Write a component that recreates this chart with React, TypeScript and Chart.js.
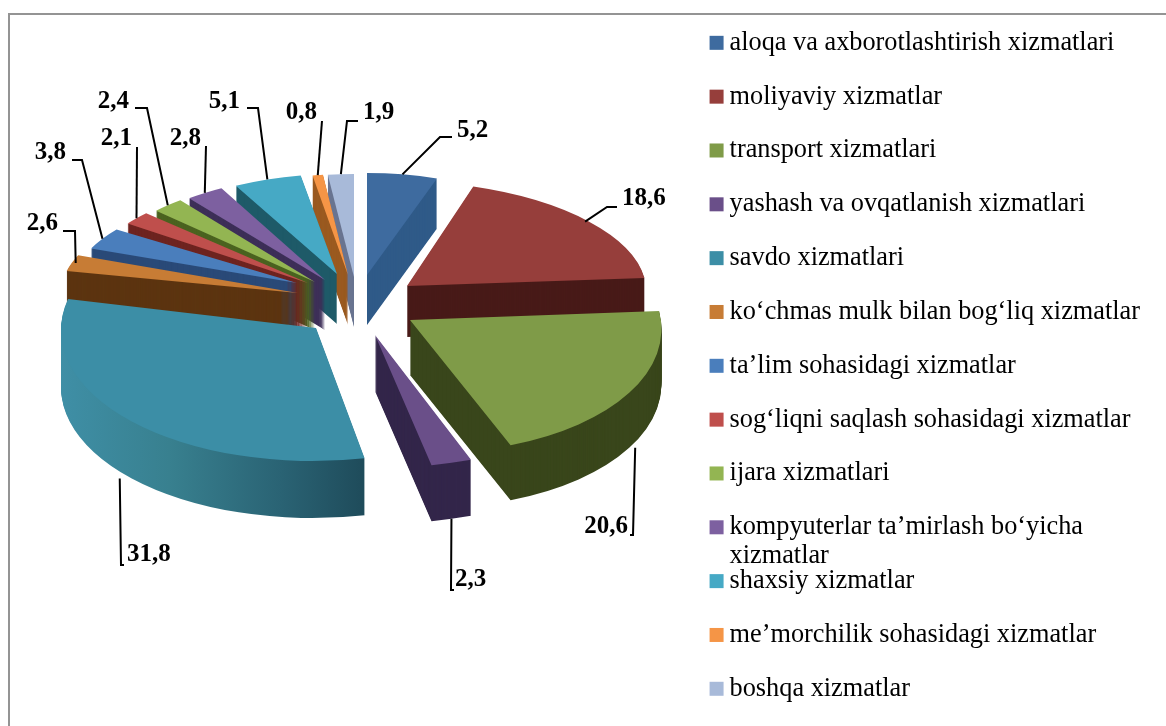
import React, { useEffect, useRef } from "react";
import { Chart, registerables } from "chart.js";

Chart.register(...registerables);

const categories = [
  "aloqa va axborotlashtirish xizmatlari",
  "moliyaviy xizmatlar",
  "transport xizmatlari",
  "yashash va ovqatlanish xizmatlari",
  "savdo xizmatlari",
  "ko‘chmas mulk bilan bog‘liq xizmatlar",
  "ta’lim sohasidagi xizmatlar",
  "sog‘liqni saqlash sohasidagi xizmatlar",
  "ijara xizmatlari",
  "kompyuterlar ta’mirlash bo‘yicha",
  "shaxsiy xizmatlar",
  "me’morchilik sohasidagi xizmatlar",
  "boshqa xizmatlar",
];
const values = [5.2, 18.6, 20.6, 2.3, 31.8, 2.6, 3.8, 2.1, 2.4, 2.8, 5.1, 0.8, 1.9];
const valueLabels = ["5,2", "18,6", "20,6", "2,3", "31,8", "2,6", "3,8", "2,1", "2,4", "2,8", "5,1", "0,8", "1,9"];
const wrappedLine = { index: 9, text: "xizmatlar" };

const faceColors = ["#3e6b9f", "#963e3b", "#7f9b48", "#6a4f89", "#3c8ea6", "#c77c35", "#4a7ebc", "#bf4f4c", "#93b552", "#7d60a0", "#46a9c5", "#f59546", "#a8bad9"];
const sideColors = ["#2f5a88", "#481a18", "#39461b", "#33264a", "", "#5c3410", "#2a4a78", "#6e2420", "#4b6320", "#3d2f58", "#1e5a68", "#9a5a20", "#6a7590"];

// 3D look: pie centre, explosion of each slice, projection of each slice's circle, extrusion
const PIE_RADIUS = 200;
const PIE_CENTER = [362, 305];
const explode = [[5, -30], [45, -19], [48, 15], [13, 30], [-46, 23], [-64, -12], [-65, -22], [-54, -22], [-47, -23], [-37, -25], [-25, -31], [-14, -30], [-8, -28]];
const projection = [[218, 0, 0, 102], [239, -11, 0, 105], [251, -15, 1, 133], [284, 2, 0, 133], [255, 4, 0, 133], [237, 0, 0, 101], [222, 0, 0, 92], [222, 0, 0, 102], [218, 0, 0, 104], [220, 0, 0, 104], [215, 0, 0, 100], [210, 0, 0, 101], [220, 0, 0, 103]];
const depth = [50, 51, 55, 56, 57, 46, 48, 48, 48, 50, 50, 50, 50];
const drawOrder = [12, 11, 10, 9, 8, 7, 6, 5, 0, 1, 3, 2, 4];

// leader layout: start nudge, bend point(s), then text anchor
const leaders: { dx?: number; bend: number[][]; text: number[]; align: CanvasTextAlign; bottom?: boolean }[] = [
  { bend: [[440, 137], [452, 137]], text: [457, 131], align: "left" },
  { dx: -4, bend: [[607, 207], [617, 207]], text: [622, 199], align: "left" },
  { dx: 6, bend: [[633, 535], [630, 535]], text: [628, 527], align: "right", bottom: true },
  { bend: [[451, 590], [454, 590]], text: [455, 580], align: "left", bottom: true },
  { dx: -12, bend: [[121, 565], [124, 565]], text: [127, 555], align: "left", bottom: true },
  { dx: 4, bend: [[75, 231], [63, 231]], text: [58, 224], align: "right" },
  { bend: [[82, 160], [72, 160]], text: [66, 153], align: "right" },
  { bend: [[137, 147]], text: [132, 139], align: "right" },
  { bend: [[147, 108], [135, 108]], text: [129, 102], align: "right" },
  { bend: [[206, 146]], text: [201, 139], align: "right" },
  { bend: [[258, 108], [247, 108]], text: [240, 102], align: "right" },
  { bend: [[322, 121]], text: [317, 113], align: "right" },
  { bend: [[347, 121], [358, 121]], text: [363, 113], align: "left" },
];

const SERIF = "'Liberation Serif', serif";

const withSlice = (ctx: any, arc: any, i: number, dy: number, draw: () => void) => {
  const [a, b, c, d] = projection[i];
  const R = arc.outerRadius;
  ctx.save();
  ctx.translate(PIE_CENTER[0] + explode[i][0], PIE_CENTER[1] + explode[i][1] + dy);
  ctx.transform(a / R, c / R, -b / R, d / R, 0, 0);
  ctx.translate(-arc.x, -arc.y);
  draw();
  ctx.restore();
};

const pie3d = {
  id: "pie3d",
  beforeDraw(chart: any) {
    const { ctx, width, height } = chart;
    ctx.save();
    ctx.fillStyle = "#ffffff";
    ctx.fillRect(0, 0, width, height);
    ctx.fillStyle = "#949494";
    ctx.fillRect(8, 13, 2, height - 13);
    ctx.fillRect(8, 13, width - 8, 2);
    ctx.restore();
  },
  beforeDatasetsDraw(chart: any) {
    const { ctx } = chart;
    const arcs = chart.getDatasetMeta(0).data;
    drawOrder.forEach((i) => {
      const arc = arcs[i];
      const original = arc.options;
      let side: any = sideColors[i];
      if (!side) {
        side = ctx.createLinearGradient(arc.x - arc.outerRadius, 0, arc.x + arc.outerRadius * 0.25, 0);
        side.addColorStop(0, "#3f8fa6");
        side.addColorStop(0.35, "#38808f");
        side.addColorStop(0.7, "#2a6374");
        side.addColorStop(1, "#1d4857");
      }
      arc.options = { ...original, backgroundColor: side };
      for (let dy = depth[i]; dy >= 1; dy--) {
        withSlice(ctx, arc, i, dy, () => arc.draw(ctx));
      }
      arc.options = original;
      withSlice(ctx, arc, i, 0, () => arc.draw(ctx));
    });
    return false;
  },
  afterDraw(chart: any) {
    const { ctx } = chart;
    const arcs = chart.getDatasetMeta(0).data;
    ctx.save();
    // leader lines + value labels
    ctx.strokeStyle = "#000000";
    ctx.lineWidth = 2;
    ctx.fillStyle = "#000000";
    ctx.font = `bold 25px ${SERIF}`;
    ctx.textBaseline = "middle";
    leaders.forEach((l, i) => {
      const arc = arcs[i];
      const mid = (arc.startAngle + arc.endAngle) / 2;
      const sin = Math.cos(mid);
      const cos = -Math.sin(mid);
      const [a, b, c, d] = projection[i];
      const x0 = PIE_CENTER[0] + explode[i][0] + a * sin + b * cos + (l.dx || 0);
      const y0 = PIE_CENTER[1] + explode[i][1] + c * sin - d * cos + (l.bottom ? depth[i] : 0);
      ctx.beginPath();
      ctx.moveTo(x0, y0);
      l.bend.forEach((p) => ctx.lineTo(p[0], p[1]));
      ctx.stroke();
      ctx.textAlign = l.align;
      ctx.fillText(valueLabels[i], l.text[0], l.text[1]);
    });
    // legend swatches + wrapped second line
    const legend = chart.legend;
    const font = chart.options.plugins.legend.labels.font;
    ctx.textAlign = "left";
    legend.legendItems.forEach((item: any, i: number) => {
      const box = legend.legendHitBoxes[i];
      ctx.fillStyle = faceColors[i];
      ctx.fillRect(box.left, box.top + (box.height - 14) / 2, 14, 14);
    });
    const hit = legend.legendHitBoxes[wrappedLine.index];
    ctx.font = `${font.size}px ${SERIF}`;
    ctx.fillStyle = "#000000";
    ctx.textBaseline = "middle";
    ctx.fillText(wrappedLine.text, hit.left + 20, hit.top + hit.height / 2 + 29);
    ctx.restore();
  },
};

export default function App() {
  const ref = useRef<HTMLCanvasElement>(null);
  useEffect(() => {
    document.body.style.overflow = "hidden";
    const canvas = ref.current!;
    const chart = new Chart(canvas, {
      type: "pie",
      data: {
        labels: categories,
        datasets: [{ data: values, backgroundColor: faceColors, borderWidth: 0, radius: PIE_RADIUS }],
      },
      plugins: [pie3d],
      options: {
        responsive: false,
        animation: false,
        layout: { padding: { top: 7.5, right: 16, left: 0, bottom: 0 } },
        plugins: {
          tooltip: { enabled: false },
          legend: {
            position: "right",
            align: "start",
            labels: {
              boxWidth: 6.85,
              boxHeight: 37,
              padding: 16.83,
              color: "#000000",
              font: { family: SERIF, size: 26.3 },
              generateLabels: (chart: any) =>
                Chart.overrides.pie.plugins.legend.labels.generateLabels(chart).map((it: any) => ({ ...it, fillStyle: "rgba(0,0,0,0)", strokeStyle: "rgba(0,0,0,0)", lineWidth: 0 })),
            },
          },
        },
      },
    } as any);
    return () => chart.destroy();
  }, []);
  return <canvas ref={ref} width={1166} height={726} style={{ position: "absolute", left: 0, top: 0, display: "block" }} />;
}
